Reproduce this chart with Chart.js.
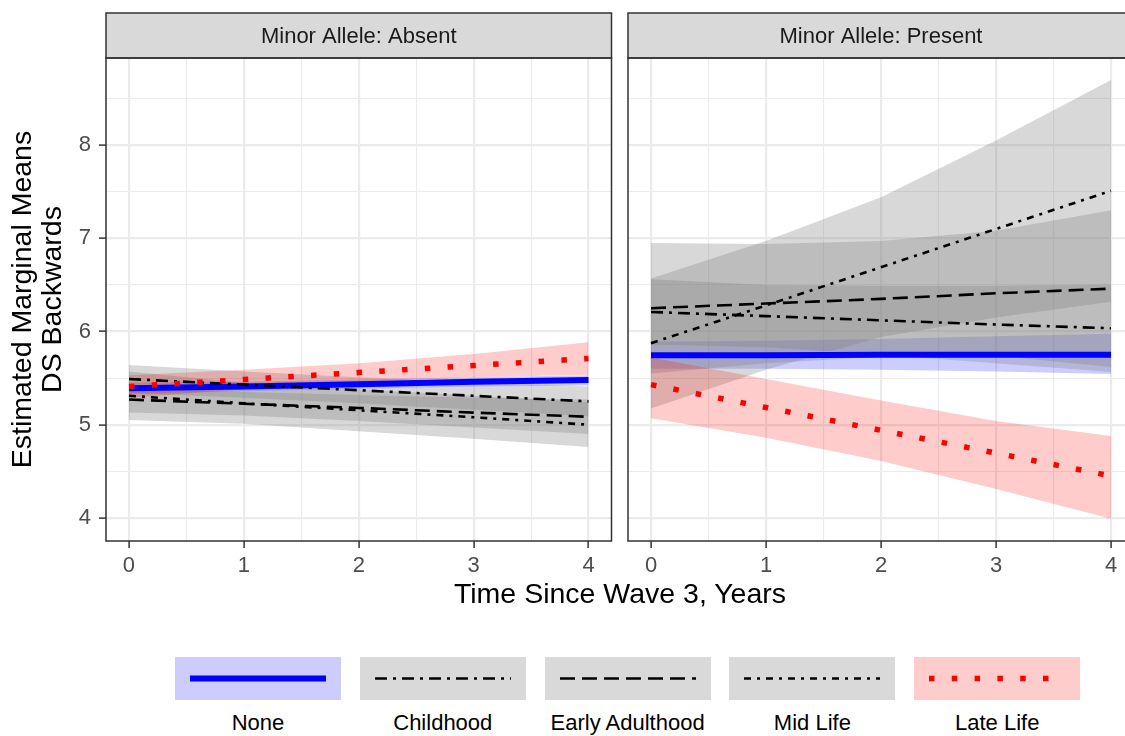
<!DOCTYPE html>
<html>
<head>
<meta charset="utf-8">
<title>Estimated Marginal Means - DS Backwards</title>
<script src="https://cdn.jsdelivr.net/npm/chart.js@4.4.1/dist/chart.umd.min.js"></script>
<style>
    html, body {
        margin: 0;
        padding: 0;
        background: #fff;
        width: 1125px;
        height: 736px;
        overflow: hidden;
        font-family: "Liberation Sans", Arial, Helvetica, sans-serif;
    }
    #wrap { position: relative; width: 1125px; height: 736px; overflow: hidden; }
    #wrap canvas { position: absolute; top: 0; }
    #absentChart { left: 0; }
    #presentChart { left: 620px; }
    #xTitle {
        position: absolute; left: 0; top: 576px; width: 1240px;
        text-align: center; font-size: 28.5px; color: #000; line-height: 34px;
    }
    .key { position: absolute; top: 657px; width: 166px; height: 43px; }
    .key svg { display: block; }
    .keyLabel {
        position: absolute; top: 708px; width: 166px; text-align: center;
        font-size: 22px; line-height: 30px; color: #000;
    }
</style>
</head>
<body>
<div id="wrap">
    <canvas id="absentChart" width="620" height="620"></canvas>
    <canvas id="presentChart" width="530" height="620"></canvas>
    <div id="xTitle">Time Since Wave 3, Years</div>
    <div id="legend"></div>
</div>

<script>
// Data (years since wave 3)
const times = [0, 1, 2, 3, 4];
const groups = ['None', 'Childhood', 'Early Adulthood', 'Mid Life', 'Late Life'];
const xTicks = [0, 1, 2, 3, 4];
const yTicks = [4, 5, 6, 7, 8];
const panelTitles = ['Minor Allele: Absent', 'Minor Allele: Present'];

// Minor Allele: Absent
const absentNoneFit = [5.39, 5.41, 5.435, 5.46, 5.48];
const absentNoneLow = [5.33, 5.36, 5.385, 5.41, 5.42];
const absentNoneHigh = [5.45, 5.46, 5.485, 5.51, 5.53];
const absentChildFit = [5.49, 5.43, 5.37, 5.31, 5.25];
const absentChildLow = [5.34, 5.29, 5.23, 5.16, 5.09];
const absentChildHigh = [5.64, 5.57, 5.51, 5.46, 5.41];
const absentEarlyFit = [5.27, 5.225, 5.18, 5.13, 5.085];
const absentEarlyLow = [5.13, 5.10, 5.04, 4.97, 4.90];
const absentEarlyHigh = [5.41, 5.35, 5.32, 5.29, 5.27];
const absentMidFit = [5.31, 5.23, 5.155, 5.08, 5.00];
const absentMidLow = [5.05, 5.01, 4.93, 4.85, 4.76];
const absentMidHigh = [5.57, 5.45, 5.38, 5.31, 5.24];
const absentLateFit = [5.41, 5.485, 5.56, 5.635, 5.71];
const absentLateLow = [5.29, 5.38, 5.46, 5.51, 5.535];
const absentLateHigh = [5.53, 5.59, 5.66, 5.76, 5.885];

// Minor Allele: Present
const presentNoneFit = [5.745, 5.745, 5.75, 5.75, 5.75];
const presentNoneLow = [5.60, 5.60, 5.59, 5.57, 5.545];
const presentNoneHigh = [5.89, 5.90, 5.92, 5.95, 5.975];
const presentChildFit = [6.21, 6.165, 6.12, 6.075, 6.035];
const presentChildLow = [5.86, 5.83, 5.75, 5.66, 5.565];
const presentChildHigh = [6.56, 6.50, 6.49, 6.49, 6.505];
const presentEarlyFit = [6.25, 6.30, 6.35, 6.41, 6.46];
const presentEarlyLow = [5.55, 5.66, 5.73, 5.74, 5.62];
const presentEarlyHigh = [6.95, 6.94, 6.97, 7.08, 7.30];
const presentMidFit = [5.875, 6.28, 6.69, 7.10, 7.51];
const presentMidLow = [5.175, 5.59, 5.94, 6.15, 6.32];
const presentMidHigh = [6.57, 6.97, 7.44, 8.05, 8.70];
const presentLateFit = [5.43, 5.185, 4.94, 4.695, 4.45];
const presentLateLow = [5.07, 4.86, 4.61, 4.31, 3.99];
const presentLateHigh = [5.72, 5.49, 5.26, 5.04, 4.88];

// Styles per group
const styles = {
    'None':            { color: '#0000FF', width: 6,   dash: [],            band: 'rgba(0,0,255,0.2)',     key: '#CCCCFF' },
    'Childhood':       { color: '#000000', width: 2.6, dash: [12, 6, 3, 6], band: 'rgba(127,127,127,0.3)', key: '#D9D9D9' },
    'Early Adulthood': { color: '#000000', width: 2.6, dash: [15, 7],       band: 'rgba(127,127,127,0.3)', key: '#D9D9D9' },
    'Mid Life':        { color: '#000000', width: 2.6, dash: [7, 6, 3, 6],  band: 'rgba(127,127,127,0.3)', key: '#D9D9D9' },
    'Late Life':       { color: '#FF0000', width: 5.5, dash: [5.5, 17.3],   band: 'rgba(255,0,0,0.2)',     key: '#FFCCCC' }
};

const absentPanel = {
    'None': [absentNoneFit, absentNoneLow, absentNoneHigh],
    'Childhood': [absentChildFit, absentChildLow, absentChildHigh],
    'Early Adulthood': [absentEarlyFit, absentEarlyLow, absentEarlyHigh],
    'Mid Life': [absentMidFit, absentMidLow, absentMidHigh],
    'Late Life': [absentLateFit, absentLateLow, absentLateHigh]
};
const presentPanel = {
    'None': [presentNoneFit, presentNoneLow, presentNoneHigh],
    'Childhood': [presentChildFit, presentChildLow, presentChildHigh],
    'Early Adulthood': [presentEarlyFit, presentEarlyLow, presentEarlyHigh],
    'Mid Life': [presentMidFit, presentMidLow, presentMidHigh],
    'Late Life': [presentLateFit, presentLateLow, presentLateHigh]
};

Chart.defaults.font.family = '"Liberation Sans", Arial, Helvetica, sans-serif';

function points(values) {
    return times.map((t, i) => ({ x: t, y: values[i] }));
}

// major ticks plus the half-way minor grid lines
function withMinor(major, max) {
    const out = [];
    major.forEach(v => {
        out.push(v);
        if (v + 0.5 <= max) out.push(v + 0.5);
    });
    return out;
}

function buildDatasets(panel) {
    // lowest index is drawn on top, so Late Life goes first
    const order = [...groups].reverse();
    const lines = order.map(g => ({
        label: g,
        data: points(panel[g][0]),
        borderColor: styles[g].color,
        borderWidth: styles[g].width,
        borderDash: styles[g].dash,
        borderCapStyle: 'butt',
        pointRadius: 0,
        tension: 0,
        fill: false
    }));
    const bands = [];
    order.forEach(g => {
        bands.push({
            label: g + ' upper',
            data: points(panel[g][2]),
            borderWidth: 0,
            borderColor: 'transparent',
            backgroundColor: styles[g].band,
            pointRadius: 0,
            fill: '+1'
        });
        bands.push({
            label: g + ' lower',
            data: points(panel[g][1]),
            borderWidth: 0,
            borderColor: 'transparent',
            pointRadius: 0,
            fill: false
        });
    });
    return lines.concat(bands);
}

const facetStrip = {
    id: 'facetStrip',
    afterDraw(chart, args, opts) {
        const { ctx, chartArea: a } = chart;
        ctx.save();
        ctx.fillStyle = '#D9D9D9';
        ctx.fillRect(a.left, 13, a.right - a.left, a.top - 13);
        ctx.strokeStyle = '#333333';
        ctx.lineWidth = 1.5;
        ctx.strokeRect(a.left, 13, a.right - a.left, a.top - 13);
        ctx.strokeRect(a.left, a.top, a.right - a.left, a.bottom - a.top);
        ctx.fillStyle = '#1A1A1A';
        ctx.font = '22px "Liberation Sans", Arial, sans-serif';
        ctx.textAlign = 'center';
        ctx.textBaseline = 'middle';
        ctx.fillText(opts.label, (a.left + a.right) / 2, (13 + a.top) / 2 + 1);
        ctx.restore();
    }
};

function gridOptions(ticksWithLabels, showTicks) {
    return {
        color: '#EBEBEB',
        lineWidth: c => (c.tick && ticksWithLabels.includes(c.tick.value)) ? 2.2 : 1.1,
        drawTicks: showTicks,
        tickLength: 7,
        tickWidth: 1.5,
        tickColor: c => (c.tick && ticksWithLabels.includes(c.tick.value)) ? '#333333' : 'rgba(0,0,0,0)'
    };
}

function makeChart(canvasId, panel, title, showY, pad) {
    const ctx = document.getElementById(canvasId).getContext('2d');
    return new Chart(ctx, {
        type: 'line',
        data: { datasets: buildDatasets(panel) },
        plugins: [facetStrip],
        options: {
            responsive: false,
            animation: false,
            devicePixelRatio: 1,
            events: [],
            layout: { padding: pad },
            plugins: {
                legend: { display: false },
                tooltip: { enabled: false },
                filler: { drawTime: 'beforeDatasetsDraw' },
                facetStrip: { label: title }
            },
            scales: {
                x: {
                    type: 'linear',
                    min: -0.2,
                    max: 4.2,
                    afterBuildTicks: s => { s.ticks = withMinor(xTicks, 4).map(v => ({ value: v })); },
                    afterFit: s => { s.height = 79; },
                    border: { display: false },
                    grid: gridOptions(xTicks, true),
                    ticks: {
                        autoSkip: false,
                        maxRotation: 0,
                        padding: 5,
                        color: '#4D4D4D',
                        font: { size: 22 },
                        callback: v => xTicks.includes(v) ? String(v) : ''
                    }
                },
                y: {
                    type: 'linear',
                    min: 3.752,
                    max: 8.935,
                    afterBuildTicks: s => { s.ticks = withMinor(yTicks, 8.935).map(v => ({ value: v })); },
                    afterFit: s => { s.width = showY ? 106 : 0; },
                    border: { display: false },
                    grid: gridOptions(yTicks, showY),
                    ticks: {
                        display: showY,
                        autoSkip: false,
                        padding: 8,
                        color: '#4D4D4D',
                        font: { size: 22 },
                        callback: v => yTicks.includes(v) ? String(v) : ''
                    },
                    title: {
                        display: showY,
                        text: ['Estimated Marginal Means', 'DS Backwards'],
                        color: '#000',
                        font: { size: 28.5, lineHeight: 1.05 },
                        padding: { top: 8, bottom: 0 }
                    }
                }
            }
        }
    });
}

function buildLegend() {
    const holder = document.getElementById('legend');
    holder.innerHTML = groups.map((g, i) => {
        const s = styles[g];
        const left = 175 + i * 184.8;
        const dash = s.dash.length ? `stroke-dasharray="${s.dash.join(' ')}"` : '';
        return `
        <div class="key" style="left:${left}px">
            <svg width="166" height="43">
                <rect x="0" y="0" width="166" height="43" fill="${s.key}"/>
                <line x1="15" y1="21.5" x2="151" y2="21.5" stroke="${s.color}" stroke-width="${s.width}" ${dash}/>
            </svg>
        </div>
        <div class="keyLabel" style="left:${left}px">${g}</div>`;
    }).join('');
}

document.addEventListener('DOMContentLoaded', () => {
    makeChart('absentChart', absentPanel, panelTitles[0], true, { top: 58, right: 8.5, left: 0, bottom: 0 });
    makeChart('presentChart', presentPanel, panelTitles[1], false, { top: 58, right: 16, left: 8, bottom: 0 });
    buildLegend();
});
</script>
</body>
</html>
